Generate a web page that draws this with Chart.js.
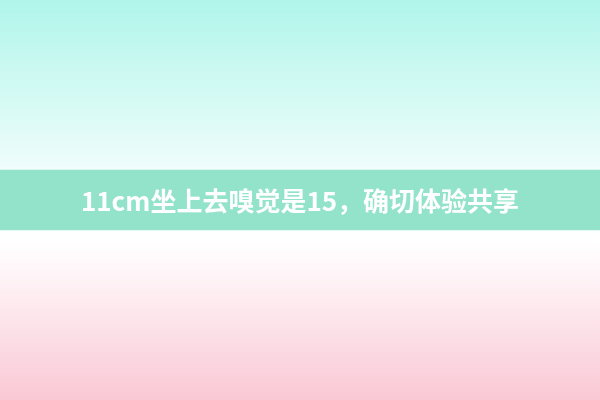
<!DOCTYPE html>
<html>
<head>
<meta charset="utf-8">
<script src="https://cdn.jsdelivr.net/npm/chart.js@4"></script>
<style>
  html, body { margin: 0; padding: 0; }
  #wrap { width: 600px; height: 400px; }
</style>
</head>
<body>
<div id="wrap"><canvas id="banner"></canvas></div>
<script>
// single category: the caption strip
const labels = ['11cm坐上去嗅觉是15，确切体验共享'];
// strip runs from 170 to 230 on a 0..400 scale (top down)
const bandFrom = [170];
const bandTo = [230];

// page background, cyan at the top fading to pink at the bottom
const bgPlugin = {
    id: 'bg',
    beforeDraw(chart) {
        const ctx = chart.ctx;
        const h = chart.height;
        const g = ctx.createLinearGradient(0, 0, 0, h);
        g.addColorStop(0, '#b0f5ea');
        g.addColorStop(0.42, '#effdfb');
        g.addColorStop(0.6, '#ffffff');
        g.addColorStop(0.66, '#fff8fa');
        g.addColorStop(1, '#f9c8d5');
        ctx.save();
        ctx.fillStyle = g;
        ctx.fillRect(0, 0, chart.width, h);
        ctx.restore();
    }
};

// caption written over the bar
const captionPlugin = {
    id: 'caption',
    afterDatasetsDraw(chart) {
        const ctx = chart.ctx;
        chart.getDatasetMeta(0).data.forEach((bar, i) => {
            const p = bar.getProps(['x', 'y', 'base'], true);
            ctx.save();
            ctx.fillStyle = '#ffffff';
            ctx.font = 'bold 26px "Noto Sans CJK SC"';
            ctx.textAlign = 'center';
            ctx.textBaseline = 'middle';
            ctx.fillText(chart.data.labels[i], p.x, (p.y + p.base) / 2 + 1);
            ctx.restore();
        });
    }
};

new Chart(document.getElementById('banner'), {
    type: 'bar',
    data: {
        labels,
        datasets: [{
            data: bandFrom.map((v, i) => [v, bandTo[i]]),
            backgroundColor: '#92e3c9',
            borderWidth: 0,
            barPercentage: 1,
            categoryPercentage: 1
        }]
    },
    options: {
        responsive: true,
        maintainAspectRatio: false,
        animation: false,
        layout: { padding: 0 },
        plugins: { legend: { display: false }, tooltip: { enabled: false } },
        scales: {
            x: { display: false, offset: true },
            y: { display: false, min: 0, max: 400, reverse: true }
        }
    },
    plugins: [bgPlugin, captionPlugin]
});
</script>
</body>
</html>
